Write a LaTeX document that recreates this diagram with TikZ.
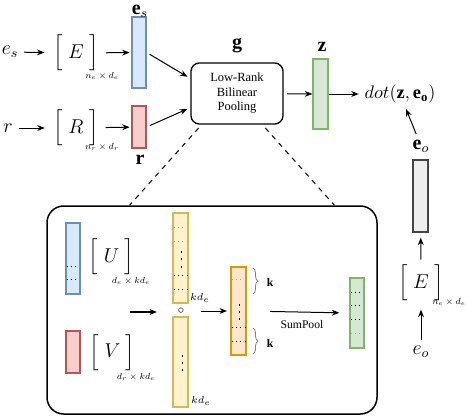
\documentclass[tikz,border=0pt]{standalone}
\usepackage{amsmath}
\usepackage{amssymb}
\usepackage{graphicx}
\usepackage{xcolor}
\usepackage{fontspec}
\setmainfont{Liberation Serif}
\usepackage{tikz}
\usetikzlibrary{arrows.meta,decorations.pathreplacing}

\definecolor{bluefill}{HTML}{DAE8FC}
\definecolor{blueline}{HTML}{6C8EBF}
\definecolor{redfill}{HTML}{F8CECC}
\definecolor{redline}{HTML}{B85450}
\definecolor{greenfill}{HTML}{D5E8D4}
\definecolor{greenline}{HTML}{82B366}
\definecolor{yellowfill}{HTML}{FFF2CC}
\definecolor{yellowline}{HTML}{D6B656}
\definecolor{orangefill}{HTML}{FFE6CC}
\definecolor{orangeline}{HTML}{D79B00}
\definecolor{greyfill}{HTML}{EEEEEE}
\definecolor{greyline}{HTML}{444444}

\newcommand{\dimlab}[1]{\scalebox{0.75}{$#1$}}

\tikzset{
  vec/.style={draw,line width=0.8pt,inner sep=0pt,minimum width=8.4pt},
  arr/.style={-{Stealth[length=4.5pt,width=3.5pt]},line width=0.6pt},
  mat/.style={inner sep=0pt,font=\large},
  dims/.style={inner sep=0pt,font=\scriptsize},
  dotrow/.style={dotted,line width=0.5pt},
  brc/.style={gray,line width=0.5pt,decorate,decoration={brace,amplitude=3pt}}
}

\begin{document}
\begin{tikzpicture}[x=0.6pt,y=-0.6pt]
      \useasboundingbox (0,0) rectangle (466,416);
      % subject entity
      \node[font=\large] (esin) at (10,52) {$e_s$};
      \node[mat] (Es) at (76,53) {$\Big[\;E\;\Big]$};
      \node[dims] (Esdim) at (102,76) {\dimlab{n_e\times d_e}};
      \node[vec,fill=bluefill,draw=blueline,minimum height=42.6pt] (esvec) at (139,52.5) {};
      \node[font=\large] (eslab) at (140,11) {$\mathbf{e}_s$};
      \draw[arr,shorten >=5pt] (esin) -- (Es);
      \draw[arr,shorten <=4pt,shorten >=1pt] (Es) -- (esvec);
      % relation
      \node[font=\large] (rin) at (8,128) {$r$};
      \node[mat] (Rr) at (76,128) {$\Big[\;R\;\Big]$};
      \node[dims] (Rdim) at (102,147) {\dimlab{n_r\times d_r}};
      \node[vec,fill=redfill,draw=redline,minimum height=25.2pt] (rvec) at (139,127) {};
      \node[font=\large] (rlab) at (140,160) {$\mathbf{r}$};
      \draw[arr,shorten >=5pt] (rin) -- (Rr);
      \draw[arr,shorten <=4pt,shorten >=1pt] (Rr) -- (rvec);
      % pooling
      \node[draw,rounded corners=5pt,line width=0.8pt,minimum width=55.2pt,
            minimum height=36.6pt,align=center,font=\fontsize{7.5}{8.7}\selectfont]
            (lrbp) at (237,93.5) {Low-Rank\\Bilinear\\Pooling};
      \node[font=\large] (glab) at (237,46) {$\mathbf{g}$};
      \draw[arr,shorten <=2pt,shorten >=2pt] (esvec.east) -- ([yshift=9pt]lrbp.west);
      \draw[arr,shorten <=2pt,shorten >=2pt] (rvec.east) -- ([yshift=-8.5pt]lrbp.west);
      \node[vec,fill=greenfill,draw=greenline,minimum width=9pt,minimum height=42pt] (zvec) at (320.5,94) {};
      \node[font=\large] (zlab) at (322,47) {$\mathbf{z}$};
      \draw[arr,shorten <=2pt] (lrbp) -- (zvec);
      \node[font=\fontsize{11}{13}\selectfont] (dotz) at (400,94) {$dot(\mathbf{z},\mathbf{e_o})$};
      \draw[arr] (zvec) -- (dotz);
      % object entity
      \node[font=\large] (eolab) at (421,146) {$\mathbf{e}_o$};
      \node[vec,fill=greyfill,draw=greyline,minimum width=9pt,minimum height=43.2pt] (eovec) at (420.5,196) {};
      \node[mat] (Eo) at (421,283) {$\Big[\;E\;\Big]$};
      \node[dims] (Eodim) at (449,302) {\dimlab{n_e\times d_e}};
      \node[font=\large] (eoin) at (421,352) {$e_o$};
      \draw[arr] (eolab) -- (dotz);
      \draw[arr,shorten <=3pt,shorten >=3pt] (Eo) -- (eovec);
      \draw[arr,shorten >=5pt] (eoin) -- (Eo);
      % zoomed view of the pooling
      \node[draw,rounded corners=10pt,line width=0.9pt,minimum width=198pt,minimum height=124.8pt] (inner) at (212,310) {};
      \draw[dashed,line width=0.6pt] ([xshift=5pt,yshift=-2pt]lrbp.south west) -- ([xshift=50pt]inner.north west);
      \draw[dashed,line width=0.6pt] ([xshift=-11pt,yshift=-2pt]lrbp.south east) -- ([xshift=-26pt]inner.north east);
      \node[vec,fill=bluefill,draw=blueline,minimum height=42.6pt] (Uvec) at (73,258.5) {};
      \node[vec,fill=redfill,draw=redline,minimum height=25.2pt] (Vvec) at (73,352) {};
      \node[mat] (Umat) at (111.5,257) {$\Big[\;U\;\Big]$};
      \node[dims] (Udim) at (131,281) {\dimlab{d_e\times kd_e}};
      \node[mat] (Vmat) at (112.5,352.5) {$\Big[\;V\;\Big]$};
      \node[dims] (Vdim) at (136,377) {\dimlab{d_r\times kd_e}};
      \coordinate (uvmid) at (130,312);
      \coordinate (hadin) at (157,312);
      \draw[arr,line width=1.3pt] (uvmid) -- (hadin);
      \node[vec,fill=yellowfill,draw=yellowline,minimum width=9pt,minimum height=54pt] (ytop) at (180.5,258) {};
      \node[vec,fill=yellowfill,draw=yellowline,minimum width=9pt,minimum height=54pt] (ybot) at (180.5,362) {};
      \node[font=\scriptsize,inner sep=0pt] (had) at (181,311) {$\circ$};
      \node[font=\fontsize{6}{7}\selectfont,inner sep=0pt] (kdtop) at (200,298) {$kd_e$};
      \node[font=\fontsize{6}{7}\selectfont,inner sep=0pt] (kdbot) at (201,401) {$kd_e$};
      \node[vec,fill=orangefill,draw=orangeline,minimum width=9pt,minimum height=52.8pt] (orange) at (238.5,311) {};
      \draw[arr,shorten >=2pt] ([xshift=10pt]had.east) -- (orange.west);
      \node[vec,fill=greenfill,draw=greenline,minimum height=42pt] (gsum) at (357,313) {};
      \draw[arr,shorten <=14pt,shorten >=6pt] (orange.east) -- (gsum.west);
      \node[font=\scriptsize,inner sep=0pt] (sumlab) at (302,325) {SumPool};
      % braces
      \draw[brc] (253,268) -- (253,294);
      \draw[brc] (253,328) -- (253,354);
      \node[font=\scriptsize] (ktop) at (270,282) {$\mathbf{k}$};
      \node[font=\scriptsize] (kbot) at (270,343) {$\mathbf{k}$};
      % rows inside the vectors
      \foreach \y in {266,279} \draw[dotrow] (67,\y) -- (79,\y);
      \foreach \y in {227,241} \draw[dotrow,gray!70] (174,\y) -- (187,\y);
      \foreach \y in {275,289} \draw[dotrow] (174,\y) -- (187,\y);
      \foreach \y in {279} \draw[dotrow,gray!70] (232,\y) -- (245,\y);
      \foreach \y in {327,341} \draw[dotrow] (232,\y) -- (245,\y);
      \foreach \y in {292,305,319} \draw[dotrow] (351,\y) -- (363,\y);
      \foreach \y in {333} \draw[dotrow,gray!70] (351,\y) -- (363,\y);
      \foreach \x/\y in {181/251,181/258,181/266,182/355,182/362,182/369,239/304,239/311,239/318}
        \fill (\x,\y) rectangle +(1.2,2);
\end{tikzpicture}
\end{document}
